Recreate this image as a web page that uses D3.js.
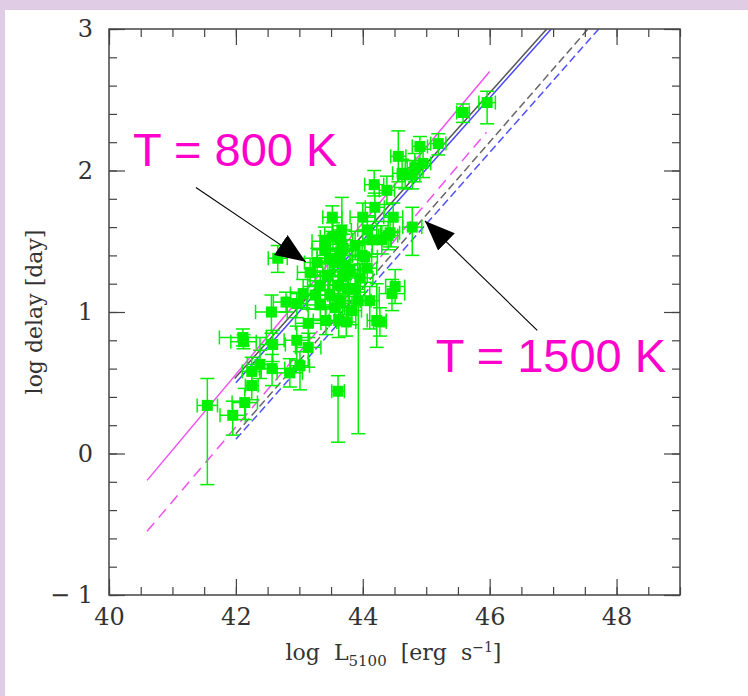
<!DOCTYPE html>
<html>
<head>
<meta charset="utf-8">
<script src="https://cdn.jsdelivr.net/npm/d3@7"></script>
<style>
  html, body { margin: 0; padding: 0; background: #e0cce4; }
  #frame { position: absolute; left: 5px; top: 10px; width: 743px; height: 686px; background: #fff; }
  svg { position: absolute; left: 0; top: 0; }
  text { white-space: pre; }
</style>
</head>
<body>
<div id="frame"></div>
<div id="chart"></div>
<script>
// reverberation points: log L5100, log delay and their errors
const logL = [41.55, 41.95, 42.14, 42.25, 42.11, 42.12, 42.56, 42.79, 42.66, 42.58, 42.57, 42.25, 42.38,
    42.85, 43.01, 42.96, 43.06, 42.96, 43.17, 43.14, 43.14, 43.61, 43.62, 43.93, 44.22, 44.03, 44.46,
    43.96, 43.69, 44.18, 44.38, 44.19, 44.00, 44.07, 44.43, 43.67, 43.53, 43.64, 43.52, 43.99, 44.15,
    44.56, 44.90, 45.19, 44.62, 44.78, 44.95, 44.48, 44.40, 44.78, 44.51, 44.27, 44.30, 45.96, 45.58,
    44.82, 44.67, 43.40, 43.48, 43.56, 43.64, 43.72, 43.80, 43.45, 43.33, 43.61, 43.77, 43.48, 43.25,
    43.64, 43.83, 43.69, 43.40, 43.88, 43.28, 43.56, 44.07, 43.33, 44.11, 43.88, 43.74, 43.42];
const logDelay = [0.34, 0.27, 0.36, 0.48, 0.82, 0.79, 1.00, 1.07, 1.38, 0.77, 0.60, 0.58, 0.63,
    0.57, 0.62, 0.80, 1.13, 1.06, 1.28, 0.92, 0.75, 0.44, 0.94, 1.08, 0.94, 1.39, 1.13,
    1.24, 1.25, 1.90, 1.86, 1.74, 1.67, 1.58, 1.56, 1.58, 1.53, 1.51, 1.67, 1.40, 1.51,
    2.10, 2.17, 2.19, 1.98, 1.97, 2.05, 1.67, 1.54, 1.60, 1.18, 0.93, 1.51, 2.48, 2.41,
    2.02, 1.97, 1.44, 1.38, 1.35, 1.40, 1.33, 1.30, 1.26, 1.19, 1.19, 1.16, 1.12, 1.12,
    1.08, 1.01, 1.45, 1.50, 1.47, 1.35, 1.03, 1.31, 1.05, 1.08, 1.16, 0.93, 0.94];
const errL = [0.16, 0.20, 0.20, 0.10, 0.37, 0.20, 0.25, 0.20, 0.15, 0.20, 0.20, 0.15, 0.20,
    0.20, 0.15, 0.20, 0.20, 0.15, 0.20, 0.20, 0.20, 0.10, 0.15, 0.20, 0.15, 0.20, 0.20,
    0.20, 0.20, 0.15, 0.12, 0.15, 0.20, 0.15, 0.15, 0.15, 0.20, 0.20, 0.15, 0.15, 0.15,
    0.12, 0.12, 0.12, 0.15, 0.12, 0.12, 0.15, 0.15, 0.15, 0.15, 0.10, 0.15, 0.13, 0.10,
    0.12, 0.12, 0.20, 0.20, 0.15, 0.15, 0.20, 0.15, 0.20, 0.20, 0.15, 0.15, 0.20, 0.20,
    0.15, 0.15, 0.20, 0.20, 0.15, 0.20, 0.15, 0.15, 0.20, 0.15, 0.15, 0.15, 0.20];
const errDelayLo = [0.56, 0.14, 0.12, 0.10, 0.06, 0.05, 0.15, 0.07, 0.10, 0.12, 0.12, 0.10, 0.10,
    0.10, 0.17, 0.14, 0.10, 0.10, 0.10, 0.10, 0.14, 0.36, 0.12, 0.94, 0.19, 0.10, 0.12,
    0.10, 0.10, 0.08, 0.10, 0.10, 0.10, 0.10, 0.10, 0.12, 0.10, 0.10, 0.10, 0.10, 0.10,
    0.18, 0.10, 0.08, 0.10, 0.10, 0.10, 0.10, 0.10, 0.20, 0.12, 0.10, 0.10, 0.15, 0.07,
    0.10, 0.10, 0.10, 0.10, 0.10, 0.10, 0.10, 0.10, 0.10, 0.10, 0.10, 0.10, 0.10, 0.10,
    0.10, 0.10, 0.10, 0.10, 0.10, 0.10, 0.10, 0.10, 0.10, 0.20, 0.10, 0.10, 0.10];
const errDelayHi = [0.19, 0.10, 0.10, 0.10, 0.06, 0.05, 0.12, 0.07, 0.09, 0.10, 0.10, 0.10, 0.10,
    0.10, 0.10, 0.10, 0.10, 0.08, 0.10, 0.10, 0.10, 0.11, 0.10, 0.10, 0.26, 0.10, 0.10,
    0.10, 0.10, 0.10, 0.10, 0.10, 0.10, 0.10, 0.12, 0.23, 0.10, 0.10, 0.08, 0.10, 0.10,
    0.18, 0.07, 0.07, 0.10, 0.10, 0.10, 0.10, 0.10, 0.14, 0.12, 0.10, 0.10, 0.08, 0.06,
    0.10, 0.10, 0.10, 0.10, 0.10, 0.10, 0.10, 0.10, 0.10, 0.10, 0.10, 0.10, 0.10, 0.10,
    0.10, 0.10, 0.10, 0.10, 0.10, 0.10, 0.10, 0.10, 0.10, 0.10, 0.10, 0.10, 0.10];

// model lines: [x0, y0, x1, y1]
const lineMagenta = [40.6, -0.19, 46.0, 2.70];
const lineMagentaDash = [40.6, -0.55, 45.95, 2.27];
const lineBlack = [41.98, 0.53, 46.9, 3.0];
const lineBlue = [42.0, 0.50, 46.97, 3.0];
const lineBlackDash = [42.0, 0.14, 47.55, 3.0];
const lineBlueDash = [42.0, 0.10, 47.72, 3.0];

// annotations: label, text position, arrow tail, arrow tip
const labels = ["T = 800 K", "T = 1500 K"];
const labelPos = [[40.38, 2.03], [45.15, 0.576]];
const arrowTail = [[41.37, 1.88], [46.75, 0.87]];
const arrowTip = [[43.1, 1.355], [44.98, 1.643]];

const xTicks = [40, 42, 44, 46, 48];
const yTicks = [-1, 0, 1, 2, 3];

const width = 748;
const height = 696;
const margin = { left: 109, top: 29, right: 68, bottom: 101 };
const plotW = width - margin.left - margin.right;
const plotH = height - margin.top - margin.bottom;

const x = d3.scaleLinear().domain([40, 49]).range([0, plotW]);
const y = d3.scaleLinear().domain([-1, 3]).range([plotH, 0]);

const svg = d3.select("#chart")
    .append("svg")
    .attr("width", width)
    .attr("height", height);

const g = svg.append("g")
    .attr("transform", "translate(" + margin.left + "," + margin.top + ")");

g.append("clipPath").attr("id", "clip")
    .append("rect").attr("width", plotW).attr("height", plotH);

// model lines
const lines = [
    { d: lineMagenta, color: "#f050f0", dash: null },
    { d: lineMagentaDash, color: "#f050f0", dash: "11,7" },
    { d: lineBlack, color: "#555", dash: null },
    { d: lineBlue, color: "#4848ff", dash: null },
    { d: lineBlackDash, color: "#666", dash: "8,4" },
    { d: lineBlueDash, color: "#5050ff", dash: "8,4" }
];

g.append("g").attr("clip-path", "url(#clip)")
    .selectAll("line")
    .data(lines)
    .enter()
    .append("line")
    .attr("x1", d => x(d.d[0]))
    .attr("y1", d => y(d.d[1]))
    .attr("x2", d => x(d.d[2]))
    .attr("y2", d => y(d.d[3]))
    .attr("stroke", d => d.color)
    .attr("stroke-width", 1.5)
    .attr("stroke-dasharray", d => d.dash);

// points with error bars
const pts = logL.map((v, i) => ({
    x: v, y: logDelay[i], ex: errL[i], lo: errDelayLo[i], hi: errDelayHi[i]
}));

const green = "#00f000";
const cap = 7;
const pg = g.append("g").attr("stroke", green).attr("stroke-width", 1.5);

pts.forEach(p => {
    const px = x(p.x), py = y(p.y);
    const y0 = y(p.y - p.lo), y1 = y(p.y + p.hi);
    const x0 = x(p.x - p.ex), x1 = x(p.x + p.ex);
    pg.append("line").attr("x1", px).attr("x2", px).attr("y1", y0).attr("y2", y1);
    pg.append("line").attr("x1", px - cap).attr("x2", px + cap).attr("y1", y0).attr("y2", y0);
    pg.append("line").attr("x1", px - cap).attr("x2", px + cap).attr("y1", y1).attr("y2", y1);
    pg.append("line").attr("x1", x0).attr("x2", x1).attr("y1", py).attr("y2", py);
    pg.append("line").attr("x1", x0).attr("x2", x0).attr("y1", py - cap).attr("y2", py + cap);
    pg.append("line").attr("x1", x1).attr("x2", x1).attr("y1", py - cap).attr("y2", py + cap);
});

g.append("g").selectAll("rect")
    .data(pts)
    .enter()
    .append("rect")
    .attr("x", d => x(d.x) - 5.5)
    .attr("y", d => y(d.y) - 5.5)
    .attr("width", 11)
    .attr("height", 11)
    .attr("fill", green);

// axes, ticks inward
const axisColor = "#444";
const font = "DejaVu Serif";
const minorX = d3.range(40, 49.01, 0.5);
const minorY = d3.range(-1, 3.01, 0.2);

function styleAxis(sel) {
    sel.select(".domain").remove();
    sel.selectAll("line").attr("stroke", axisColor).attr("stroke-width", 1.2);
    sel.selectAll("text").attr("fill", "#333").attr("font-family", font).attr("font-size", 24);
}

g.append("g").attr("transform", "translate(0," + plotH + ")")
    .call(d3.axisBottom(x).tickValues(minorX).tickSize(-8).tickFormat(""))
    .call(styleAxis);
g.append("g").attr("transform", "translate(0," + plotH + ")")
    .call(d3.axisBottom(x).tickValues(xTicks).tickSize(-16).tickPadding(13).tickFormat(d3.format("d")))
    .call(styleAxis);
g.append("g")
    .call(d3.axisTop(x).tickValues(minorX).tickSize(-8).tickFormat(""))
    .call(styleAxis);
g.append("g")
    .call(d3.axisTop(x).tickValues(xTicks).tickSize(-16).tickFormat(""))
    .call(styleAxis);
g.append("g")
    .call(d3.axisLeft(y).tickValues(minorY).tickSize(-8).tickFormat(""))
    .call(styleAxis);
g.append("g")
    .call(d3.axisLeft(y).tickValues(yTicks).tickSize(-16).tickPadding(16).tickFormat(d => d < 0 ? "\u2212 " + (-d) : d))
    .call(styleAxis);
g.append("g").attr("transform", "translate(" + plotW + ",0)")
    .call(d3.axisRight(y).tickValues(minorY).tickSize(-8).tickFormat(""))
    .call(styleAxis);
g.append("g").attr("transform", "translate(" + plotW + ",0)")
    .call(d3.axisRight(y).tickValues(yTicks).tickSize(-16).tickFormat(""))
    .call(styleAxis);

g.append("rect")
    .attr("width", plotW)
    .attr("height", plotH)
    .attr("fill", "none")
    .attr("stroke", axisColor)
    .attr("stroke-width", 1.5);

// axis titles
g.append("text")
    .attr("transform", "translate(-67," + plotH / 2 + ") rotate(-90)")
    .attr("text-anchor", "middle")
    .attr("font-family", font)
    .attr("font-size", 22)
    .attr("fill", "#333")
    .text("log delay [day]");

const xt = g.append("text")
    .attr("x", plotW / 2 - 1)
    .attr("y", plotH + 65)
    .attr("text-anchor", "middle")
    .attr("font-family", font)
    .attr("font-size", 22)
    .attr("fill", "#333");
xt.append("tspan").text("log  L");
xt.append("tspan").attr("dy", 6).attr("font-size", 15).text("5100");
xt.append("tspan").attr("dy", -6).text("  [erg  s");
xt.append("tspan").attr("dy", -8).attr("font-size", 14).text("\u22121");
xt.append("tspan").attr("dy", 8).text("]");

// arrows
svg.append("defs").append("marker")
    .attr("id", "head")
    .attr("viewBox", "0 0 30 24")
    .attr("refX", 30)
    .attr("refY", 12)
    .attr("markerWidth", 30)
    .attr("markerHeight", 24)
    .attr("markerUnits", "userSpaceOnUse")
    .attr("orient", "auto")
    .append("path")
    .attr("d", "M0,0 L30,12 L0,24 Z")
    .attr("fill", "#000");

g.append("g").selectAll("line")
    .data(arrowTail)
    .enter()
    .append("line")
    .attr("x1", d => x(d[0]))
    .attr("y1", d => y(d[1]))
    .attr("x2", (d, i) => x(arrowTip[i][0]))
    .attr("y2", (d, i) => y(arrowTip[i][1]))
    .attr("stroke", "#000")
    .attr("stroke-width", 1.1)
    .attr("marker-end", "url(#head)");

g.append("g").selectAll("text")
    .data(labels)
    .enter()
    .append("text")
    .attr("x", (d, i) => x(labelPos[i][0]))
    .attr("y", (d, i) => y(labelPos[i][1]))
    .attr("font-family", "Liberation Sans")
    .attr("font-size", 47)
    .attr("fill", "#ff00cc")
    .text(d => d);
</script>
</body>
</html>
